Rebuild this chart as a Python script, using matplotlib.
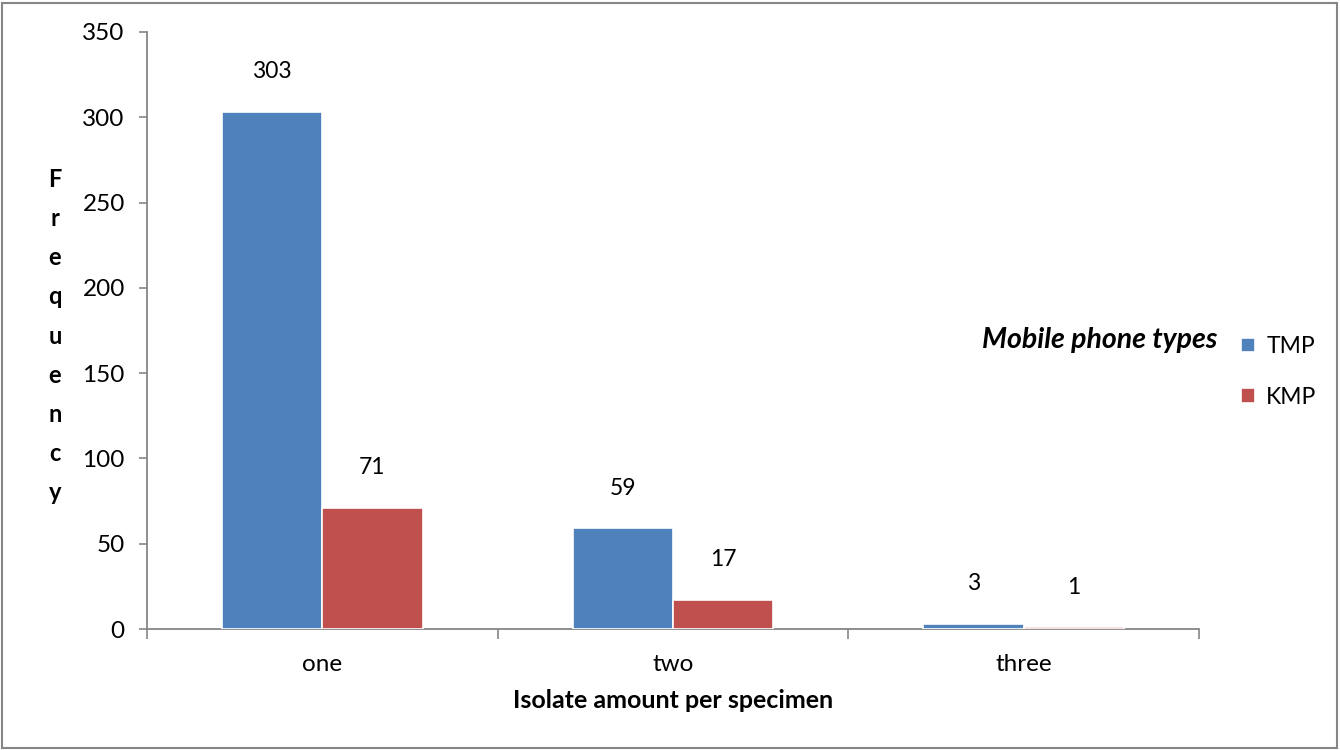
import matplotlib.pyplot as plt
import numpy as np
from matplotlib.patches import Rectangle

plt.rcParams['font.family'] = ['Lato', 'DejaVu Sans']

categories = ['one', 'two', 'three']
tmp = [303, 59, 3]
kmp = [71, 17, 1]
series_names = ['TMP', 'KMP']
colors = ['#4F81BD', '#C0504D']
axis_grey = '#868686'

fig = plt.figure(figsize=(13.4, 7.5), dpi=100)
ax = fig.add_axes([147 / 1340, 1 - 629 / 750, (1199 - 147) / 1340, (629 - 32) / 750])

x = np.arange(len(categories))
w = 100 / 350
bars = []
for i, (vals, name) in enumerate(zip([tmp, kmp], series_names)):
    pos = x + (i - 0.5) * w
    b = ax.bar(pos, vals, width=w, color=colors[i], edgecolor='white', linewidth=1.2, label=name, zorder=3)
    bars.append(b)
    for px, v in zip(pos, vals):
        ax.annotate(str(v), (px, v), xytext=(0, 29), textcoords='offset points',
                    ha='center', va='center', fontsize=16.5)

ax.set_xlim(-0.5, 2.5)
ax.set_ylim(0, 350)
ax.set_yticks(range(0, 351, 50))
ax.set_xticks(x)
ax.set_xticklabels(categories, fontsize=17.5)
ax.set_xticks([-0.5, 0.5, 1.5, 2.5], minor=True)
ax.tick_params(axis='x', which='major', length=0, pad=18)
ax.tick_params(axis='x', which='minor', length=7, width=1.2, color=axis_grey, direction='out')
ax.tick_params(axis='y', length=6, width=1.2, color=axis_grey, labelsize=17.5, pad=10)

for side in ['top', 'right']:
    ax.spines[side].set_visible(False)
for side in ['left', 'bottom']:
    ax.spines[side].set_color(axis_grey)
    ax.spines[side].set_linewidth(1.3)

ax.set_xlabel('Isolate amount per specimen', fontsize=18, fontweight='bold')
ax.xaxis.set_label_coords(0.5, -0.1)

# vertical stacked y label
fig.text(55 / 1340, 1 - 336 / 750, '\n'.join('Frequency'), ha='center', va='center',
         fontsize=17, fontweight='bold', linespacing=1.85)

fig.text(1217 / 1340, 1 - 340 / 750, 'Mobile phone types', ha='right', va='center',
         fontsize=20.5, fontweight='bold', fontstyle='italic')
ax.legend(handles=bars, labels=series_names, loc='upper left',
          bbox_to_anchor=(1241 / 1340, 1 - 336 / 750), bbox_transform=fig.transFigure,
          frameon=False, fontsize=16.5, handlelength=0.6, handleheight=0.6,
          handletextpad=0.5, labelspacing=1.3, borderpad=0, borderaxespad=0)

fig.patches.append(Rectangle((2 / 1340, 2 / 750), 1335 / 1340, 745 / 750, transform=fig.transFigure,
                             fill=False, edgecolor=axis_grey, linewidth=1.5))

fig.savefig('out.png', dpi=100)
